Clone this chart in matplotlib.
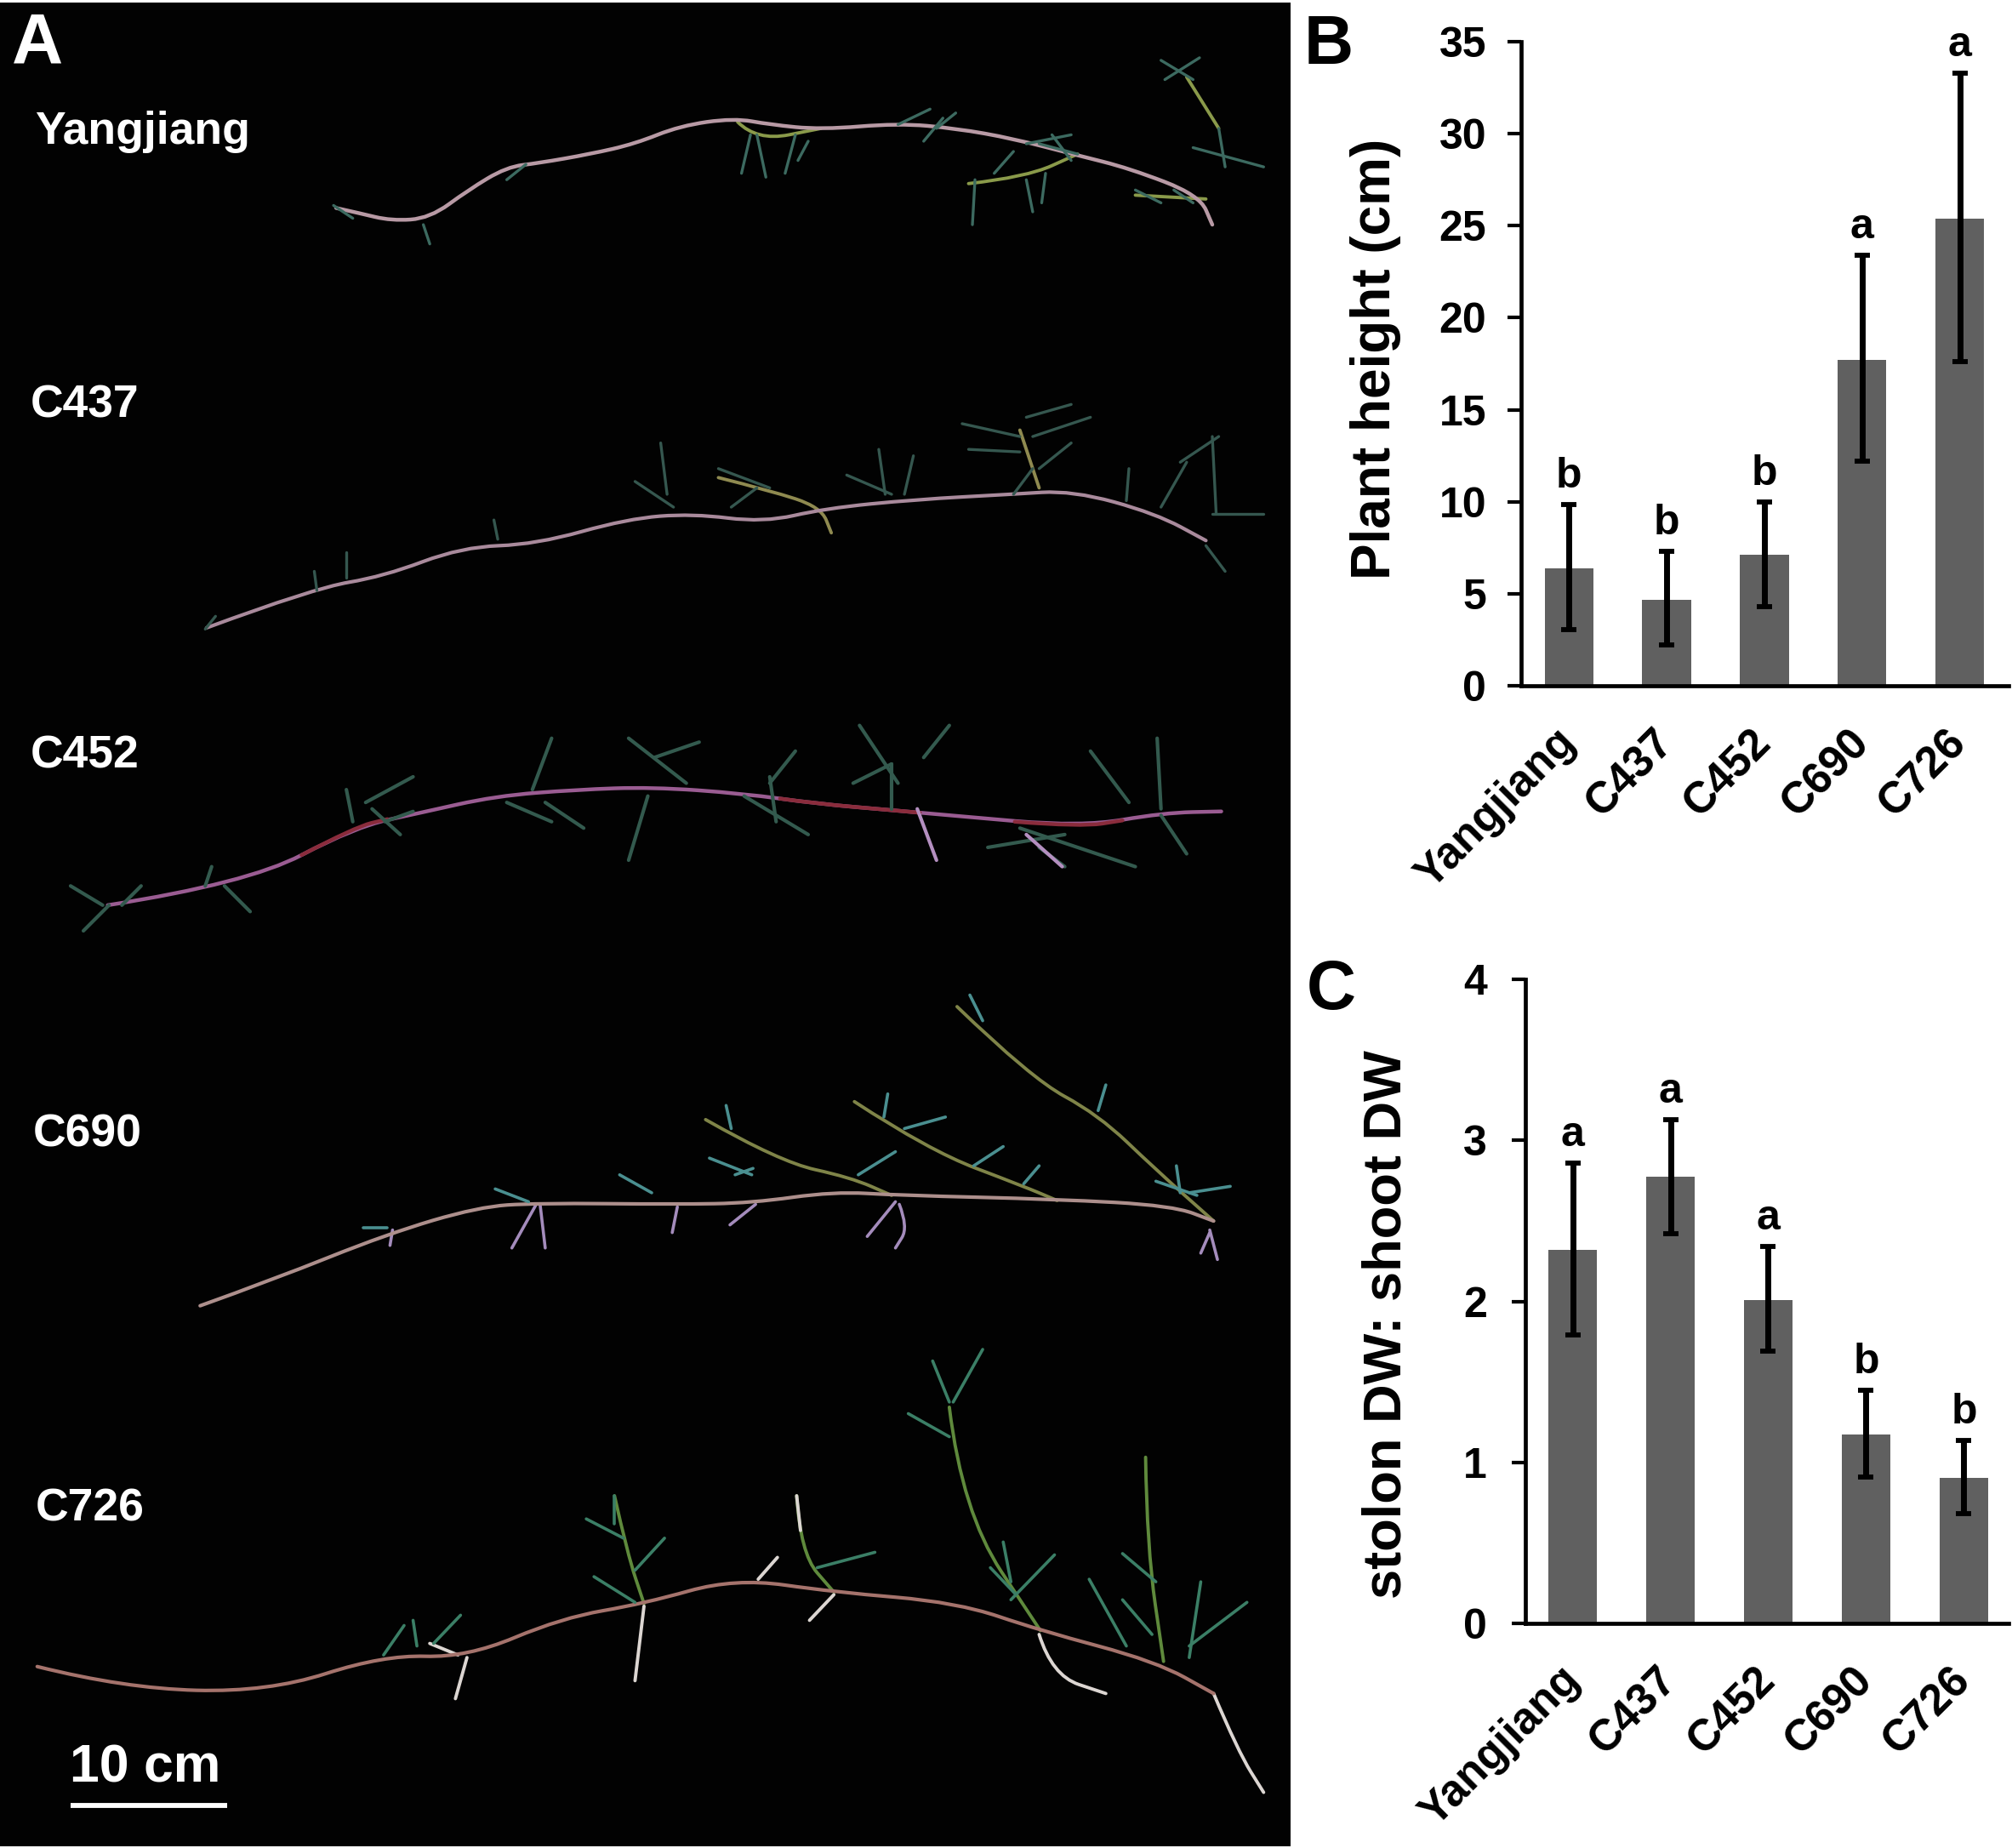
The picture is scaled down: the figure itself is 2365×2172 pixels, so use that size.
import matplotlib
matplotlib.use('Agg')
import matplotlib.pyplot as plt
from matplotlib.patches import PathPatch
from matplotlib.path import Path
from matplotlib.transforms import ScaledTranslation

plt.rcParams['font.family'] = ['Liberation Sans', 'DejaVu Sans']
plt.rcParams['font.weight'] = 'bold'

W, H = 2365, 2172

cultivars = ['Yangjiang', 'C437', 'C452', 'C690', 'C726']

# panel B
height_mean = [6.4, 4.65, 7.1, 17.7, 25.4]
height_low = [3.05, 2.2, 4.3, 12.2, 17.6]
height_high = [9.85, 7.3, 10.0, 23.4, 33.3]
height_sig = ['b', 'b', 'b', 'a', 'a']

# panel C
ratio_mean = [2.32, 2.775, 2.01, 1.175, 0.903]
ratio_low = [1.79, 2.42, 1.69, 0.91, 0.683]
ratio_high = [2.86, 3.13, 2.34, 1.45, 1.135]
ratio_sig = ['a', 'a', 'a', 'b', 'b']

# panel A, stems
yang_stem = [(262, 162), (280, 166), (305, 172), (335, 170), (365, 148), (395, 130), (420, 127),
             (460, 120), (495, 112), (530, 98), (572, 92), (600, 97), (640, 101), (700, 96),
             (745, 100), (790, 108), (840, 121), (880, 131), (935, 152), (945, 175)]
yang_branches = [[(755, 143), (800, 138), (840, 120)], [(925, 60), (950, 100)],
                 [(575, 95), (590, 110), (640, 100)], [(885, 152), (940, 155)]]
yang_leaves = [(908, 62, 935, 45), (905, 47, 930, 62), (950, 100, 955, 130), (930, 115, 985, 130),
               (585, 105, 578, 135), (590, 105, 597, 138), (620, 105, 612, 135), (630, 110, 622, 125),
               (760, 140, 758, 175), (775, 135, 790, 118), (800, 140, 805, 165), (815, 135, 812, 158),
               (700, 97, 725, 85), (730, 100, 745, 88), (735, 92, 720, 110), (800, 112, 835, 105),
               (410, 128, 395, 140), (260, 160, 275, 170), (330, 175, 335, 190),
               (810, 112, 840, 120), (820, 105, 835, 125), (885, 148, 905, 158), (915, 148, 930, 158)]

c437_stem = [(161, 489), (245, 458), (299, 449), (360, 426), (418, 424), (489, 404), (540, 400),
             (595, 407), (643, 396), (714, 389), (788, 385), (836, 382), (901, 400), (940, 421)]
c437_branches = [[(560, 372), (600, 382), (640, 395), (648, 415)], [(795, 335), (805, 365), (810, 380)]]
c437_leaves = [(495, 375, 525, 395), (515, 345, 520, 385), (560, 365, 600, 380), (590, 380, 570, 395),
               (660, 370, 695, 385), (685, 350, 690, 385), (712, 355, 705, 385), (750, 330, 795, 340),
               (755, 350, 795, 352), (800, 325, 835, 315), (805, 340, 850, 325), (810, 365, 835, 345),
               (790, 385, 805, 365), (270, 430, 270, 450), (245, 445, 247, 460), (385, 405, 388, 420),
               (945, 340, 948, 400), (905, 395, 925, 360), (920, 360, 950, 340), (945, 400, 985, 400),
               (880, 365, 878, 390), (160, 490, 168, 480), (940, 425, 955, 445)]

c452_stem = [(84, 705), (193, 688), (277, 644), (328, 633), (386, 620), (450, 615), (508, 613),
             (579, 618), (637, 626), (695, 631), (740, 635), (843, 644), (907, 633), (952, 632)]
c452_red = [[(235, 666), (277, 644), (302, 638)], [(608, 622), (637, 626), (695, 631), (717, 633)],
            [(791, 640), (843, 644), (875, 639)]]
c452_leaves = [(270, 615, 275, 640), (285, 625, 322, 605), (290, 630, 312, 650), (300, 640, 322, 632),
               (430, 575, 415, 615), (395, 625, 430, 640), (425, 625, 455, 645), (505, 620, 490, 670),
               (490, 575, 535, 610), (545, 578, 510, 590), (600, 610, 620, 585), (580, 620, 630, 650),
               (605, 640, 600, 605), (670, 565, 700, 610), (720, 590, 740, 565), (695, 630, 695, 595),
               (665, 610, 695, 595), (850, 585, 880, 625), (902, 575, 905, 630), (905, 635, 925, 665),
               (770, 660, 830, 650), (795, 645, 885, 675), (810, 660, 830, 675), (55, 690, 80, 705),
               (65, 725, 85, 705), (110, 690, 95, 705), (165, 675, 160, 690), (175, 690, 195, 710)]
c452_pale = [(715, 630, 730, 670), (800, 650, 828, 675)]

c690_stem = [(156, 1017), (212, 997), (302, 961), (373, 940), (418, 937), (528, 938), (586, 937),
             (650, 928), (701, 931), (824, 934), (914, 939), (946, 951)]
c690_branches = [[(550, 872), (608, 905), (663, 917), (695, 931)],
                 [(666, 858), (724, 896), (798, 924), (824, 935)],
                 [(746, 784), (804, 840), (856, 868), (901, 911), (946, 951)]]
c690_leaves = [(692, 852, 689, 870), (705, 879, 737, 870), (759, 908, 782, 893), (798, 922, 810, 908),
               (669, 915, 698, 897), (483, 915, 508, 929), (553, 902, 586, 915), (573, 915, 587, 910),
               (386, 926, 412, 936), (283, 956, 302, 956), (901, 920, 933, 931), (917, 908, 920, 929),
               (927, 929, 959, 924), (566, 861, 570, 879), (862, 845, 856, 865), (756, 775, 766, 795)]
c690_roots = [[(418, 938), (399, 972)], [(421, 938), (425, 972)], [(528, 940), (524, 960)],
              [(589, 938), (569, 954)], [(698, 936), (676, 963)], [(701, 938), (708, 956), (698, 972)],
              [(943, 958), (949, 981)], [(943, 960), (936, 976)], [(306, 958), (304, 970)]]

c726_stem = [(29, 1298), (97, 1315), (209, 1318), (299, 1289), (364, 1291), (438, 1260), (502, 1249),
             (573, 1229), (650, 1240), (746, 1248), (811, 1270), (901, 1294), (946, 1319)]
c726_branches = [[(740, 1096), (750, 1178), (811, 1270)], [(893, 1135), (894, 1205), (907, 1294)],
                 [(621, 1165), (624, 1210), (650, 1240)], [(479, 1165), (489, 1210), (502, 1249)]]
c726_leaves = [(299, 1289, 315, 1266), (325, 1282, 322, 1262), (338, 1280, 359, 1258), (463, 1228, 495, 1248),
               (457, 1183, 486, 1198), (479, 1165, 479, 1187), (518, 1198, 495, 1223), (637, 1221, 682, 1209),
               (727, 1060, 740, 1092), (766, 1051, 743, 1092), (708, 1101, 740, 1119), (772, 1221, 792, 1242),
               (782, 1201, 788, 1232), (822, 1211, 788, 1246), (849, 1230, 878, 1282), (875, 1246, 898, 1273),
               (936, 1232, 927, 1291), (972, 1248, 927, 1282), (875, 1210, 901, 1232)]
c726_roots = [[(502, 1251), (495, 1309)], [(364, 1291), (355, 1323)], [(650, 1242), (631, 1262)],
              [(810, 1273), (820, 1305), (862, 1319)], [(946, 1319), (965, 1364), (985, 1396)],
              [(335, 1280), (357, 1289)], [(591, 1230), (606, 1213)], [(621, 1165), (624, 1192)]]

plant_names = ['Yangjiang', 'C437', 'C452', 'C690', 'C726']
name_y = [103, 316, 589, 884, 1175]
name_x = [27, 24, 24, 26, 28]


def pixel_axes(fig, left, top, right, bottom):
    return fig.add_axes([left / W, 1 - bottom / H, (right - left) / W, (bottom - top) / H])


def draw_line(ax, points, color, lw):
    # quadratic curves through the midpoints, so the stems bend instead of kink
    verts = [points[0]]
    codes = [Path.MOVETO]
    for i in range(1, len(points) - 1):
        mid = ((points[i][0] + points[i + 1][0]) / 2, (points[i][1] + points[i + 1][1]) / 2)
        verts += [points[i], mid]
        codes += [Path.CURVE3, Path.CURVE3]
    verts.append(points[-1])
    codes.append(Path.LINETO)
    ax.add_patch(PathPatch(Path(verts, codes), fill=False, edgecolor=color, lw=lw,
                           capstyle='round', joinstyle='round'))


def draw_leaves(ax, leaves, color, lw=2.4):
    for x0, y0, x1, y1 in leaves:
        ax.plot([x0, x1], [y0, y1], color=color, lw=lw, solid_capstyle='round')


def draw_photo(ax):
    ax.set_facecolor('#020202')
    ax.set_xlim(0, 1006)
    ax.set_ylim(1438, 2)
    ax.set_xticks([])
    ax.set_yticks([])
    for s in ax.spines.values():
        s.set_visible(False)

    draw_leaves(ax, yang_leaves, '#3c6a60')
    for b in yang_branches:
        draw_line(ax, b, '#8a9a4a', 2.8)
    draw_line(ax, yang_stem, '#b89aa5', 3.2)

    draw_leaves(ax, c437_leaves, '#35574f')
    for b in c437_branches:
        draw_line(ax, b, '#8f8a50', 2.8)
    draw_line(ax, c437_stem, '#a98a9c', 3)

    draw_leaves(ax, c452_leaves, '#335a4e', 3)
    draw_leaves(ax, c452_pale, '#b48fc0', 3)
    draw_line(ax, c452_stem, '#9a5c92', 3.2)
    for b in c452_red:
        draw_line(ax, b, '#8a2c3c', 3.2)

    draw_leaves(ax, c690_leaves, '#4a8f90', 2.6)
    for b in c690_branches:
        draw_line(ax, b, '#7f8448', 2.8)
    for r in c690_roots:
        draw_line(ax, r, '#a48cbc', 2.6)
    draw_line(ax, c690_stem, '#ad8f8c', 3)

    draw_leaves(ax, c726_leaves, '#3b7f66', 2.6)
    for b in c726_branches:
        draw_line(ax, b, '#5f8a3c', 2.8)
    for r in c726_roots:
        draw_line(ax, r, '#dcd6d2', 2.8)
    draw_line(ax, c726_stem, '#a5736c', 3)

    for name, x, y in zip(plant_names, name_x, name_y):
        ax.text(x, y, name, color='white', fontsize=38.5, va='center', ha='left')
    ax.text(9, 35, 'A', color='white', fontsize=60, va='center', ha='left')
    ax.text(113, 1377, '10 cm', color='white', fontsize=45, va='center', ha='center')
    ax.plot([55, 177], [1406, 1406], color='white', lw=4.2, solid_capstyle='butt')


def draw_bars(fig, ax, mean, low, high, sig, ymax, yticks, xlim, pad):
    xs = list(range(len(mean)))
    yerr = [[m - l for m, l in zip(mean, low)], [h - m for m, h in zip(mean, high)]]
    ax.bar(xs, mean, width=0.5, color='#606060', yerr=yerr, ecolor='black',
           error_kw={'elinewidth': 5, 'capsize': 6.5, 'capthick': 4.2})
    ax.set_xlim(*xlim)
    ax.set_ylim(0, ymax)
    ax.set_yticks(yticks)
    ax.tick_params(axis='y', length=11.5, width=3, pad=pad, labelsize=36)
    ax.set_xticks(xs)
    ax.set_xticklabels(cultivars, rotation=45, ha='right', va='top', rotation_mode='anchor', fontsize=37)
    ax.tick_params(axis='x', length=0, pad=30)
    shift = ScaledTranslation(-12 / 72, 0, fig.dpi_scale_trans)
    for label in ax.get_xticklabels():
        label.set_transform(label.get_transform() + shift)
    for s in ['top', 'right']:
        ax.spines[s].set_visible(False)
    for s in ['left', 'bottom']:
        ax.spines[s].set_linewidth(3.4)
    for x, h, s in zip(xs, high, sig):
        ax.annotate(s, (x, h), xytext=(0, 7), textcoords='offset points',
                    ha='center', va='bottom', fontsize=36, annotation_clip=False)


def main():
    fig = plt.figure(figsize=(W / 100, H / 100), dpi=100, facecolor='white')

    draw_photo(pixel_axes(fig, 0, 3, 1517, 2170))

    ax_b = pixel_axes(fig, 1788, 49, 2361, 806)
    draw_bars(fig, ax_b, height_mean, height_low, height_high, height_sig, 35,
              [0, 5, 10, 15, 20, 25, 30, 35], (-0.49, 4.5), 18)

    ax_c = pixel_axes(fig, 1793, 1151, 2361, 1908)
    draw_bars(fig, ax_c, ratio_mean, ratio_low, ratio_high, ratio_sig, 4,
              [0, 1, 2, 3, 4], (-0.483, 4.457), 21)

    fig.text(1617 / W, 1 - 422 / H, 'Plant height (cm)', rotation=90, fontsize=46, ha='center', va='center')
    fig.text(1630 / W, 1 - 1557 / H, 'stolon DW: shoot DW', rotation=90, fontsize=45.5, ha='center', va='center')
    fig.text(1562 / W, 1 - 54 / H, 'B', fontsize=58, ha='center', va='center')
    fig.text(1565 / W, 1 - 1165 / H, 'C', fontsize=58, ha='center', va='center')

    fig.savefig('out.png', dpi=100, facecolor='white')


if __name__ == '__main__':
    main()
